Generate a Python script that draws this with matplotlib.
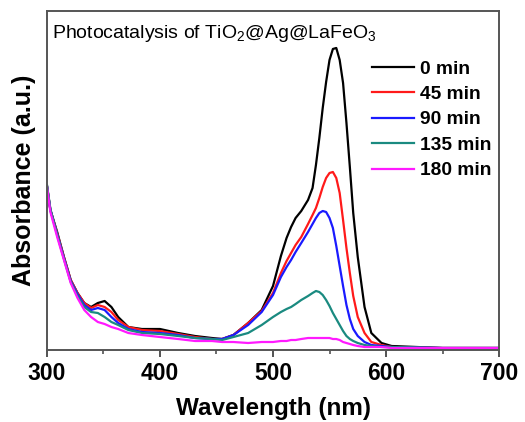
import matplotlib
matplotlib.use("Agg")
import matplotlib.pyplot as plt

plt.rcParams['font.family'] = ['Liberation Sans', 'DejaVu Sans']
plt.rcParams['mathtext.fontset'] = 'custom'
plt.rcParams['mathtext.rm'] = 'Liberation Sans'
plt.rcParams['mathtext.it'] = 'Liberation Sans'
plt.rcParams['mathtext.bf'] = 'Liberation Sans:bold'

wavelength = [300, 303, 309, 315, 321, 327, 333, 339, 345, 351, 357, 363, 372, 384,
              400, 416, 431, 446, 455, 465, 478, 490, 500, 507, 512, 516, 520, 525, 531, 535,
              538, 541, 544, 547, 550, 553, 556, 559, 562, 565, 568, 571, 575, 581,
              587, 596, 605, 650, 700]

abs_0 = [1.62, 1.38, 1.16, 0.91, 0.68, 0.55, 0.45, 0.41, 0.45, 0.47, 0.41, 0.31, 0.21, 0.19,
         0.19, 0.15, 0.12, 0.10, 0.09, 0.13, 0.25, 0.38,
         0.62, 0.92, 1.10, 1.21, 1.30, 1.37, 1.48, 1.60, 1.83, 2.10, 2.40, 2.66, 2.88, 2.99, 3.00, 2.88,
         2.65, 2.25, 1.81, 1.35, 0.91, 0.41, 0.15, 0.05, 0.02, 0.00, 0.00]
abs_45 = [1.62, 1.38, 1.15, 0.91, 0.68, 0.55, 0.45, 0.40, 0.43, 0.41, 0.36, 0.28, 0.21, 0.18,
          0.17, 0.14, 0.11, 0.09, 0.09, 0.13, 0.25, 0.37,
          0.55, 0.75, 0.87, 0.95, 1.03, 1.11, 1.24, 1.33, 1.40, 1.50, 1.61, 1.70, 1.75, 1.76, 1.70, 1.55,
          1.28, 1.00, 0.75, 0.52, 0.31, 0.15, 0.06, 0.03, 0.01, 0.00, 0.00]
abs_90 = [1.62, 1.38, 1.14, 0.90, 0.67, 0.54, 0.43, 0.38, 0.40, 0.38, 0.31, 0.25, 0.19, 0.16,
          0.15, 0.13, 0.10, 0.09, 0.09, 0.13, 0.23, 0.36,
          0.53, 0.71, 0.81, 0.88, 0.96, 1.05, 1.16, 1.24, 1.30, 1.35, 1.37, 1.36, 1.30, 1.20, 1.02, 0.82,
          0.62, 0.43, 0.29, 0.19, 0.12, 0.06, 0.03, 0.02, 0.01, 0.00, 0.00]
abs_135 = [1.63, 1.39, 1.13, 0.89, 0.66, 0.52, 0.41, 0.36, 0.35, 0.31, 0.26, 0.23, 0.18, 0.15,
           0.14, 0.12, 0.10, 0.09, 0.08, 0.11, 0.15, 0.23,
           0.31, 0.36, 0.39, 0.41, 0.44, 0.48, 0.52, 0.55, 0.57, 0.56, 0.53, 0.48, 0.42, 0.35, 0.29, 0.23,
           0.17, 0.12, 0.09, 0.07, 0.05, 0.03, 0.02, 0.01, 0.01, 0.00, 0.00]
abs_180 = [1.61, 1.36, 1.11, 0.88, 0.65, 0.50, 0.38, 0.31, 0.26, 0.24, 0.21, 0.19, 0.15, 0.13,
           0.11, 0.09, 0.07, 0.07, 0.06, 0.06, 0.05, 0.06,
           0.06, 0.07, 0.07, 0.08, 0.08, 0.09, 0.10, 0.10, 0.10, 0.10, 0.10, 0.10, 0.10, 0.09, 0.09, 0.08,
           0.06, 0.05, 0.04, 0.03, 0.02, 0.01, 0.01, 0.01, 0.00, 0.00, 0.00]

labels = ['0 min', '45 min', '90 min', '135 min', '180 min']
colors = ['#000000', '#ff1a1a', '#1a1aff', '#1a8a80', '#ff1aff']
series = [abs_0, abs_45, abs_90, abs_135, abs_180]
xticks = [300, 400, 500, 600, 700]

fig = plt.figure(figsize=(5.25, 4.22), dpi=100)
ax = fig.add_axes([0.0895, 0.1706, 0.861, 0.8034])

for y, c, lab in zip(series, colors, labels):
    ax.plot(wavelength, y, color=c, lw=1.6, label=lab)

ax.set_xlim(300, 700)
ax.set_ylim(-0.02, 3.37)
ax.set_xticks(xticks)
ax.set_xticks([350, 450, 550, 650], minor=True)
ax.set_yticks([])
ax.tick_params(axis='x', which='major', direction='out', length=5, width=1.3,
               labelsize=16.5, colors='#444444', labelcolor='black', pad=3.5)
ax.tick_params(axis='x', which='minor', direction='out', length=3, width=1.1, colors='#444444')
for lab in ax.get_xticklabels():
    lab.set_fontweight('bold')
for s in ax.spines.values():
    s.set_color('#555555')
    s.set_linewidth(1.4)

ax.set_xlabel('Wavelength (nm)', fontsize=17.5, fontweight='bold', labelpad=9)
ax.set_ylabel('Absorbance (a.u.)', fontsize=18, fontweight='bold', labelpad=8)

ax.text(0.012, 0.935, r'Photocatalysis of TiO$_2$@Ag@LaFeO$_3$', transform=ax.transAxes,
        fontsize=14, ha='left', va='center')

leg = ax.legend(loc='upper left', bbox_to_anchor=(0.719, 0.855), frameon=False,
                prop={'size': 13.8, 'weight': 'bold'}, handlelength=2.2,
                handletextpad=0.3, labelspacing=0.42, borderpad=0, borderaxespad=0)

fig.savefig('out.png', dpi=100)
